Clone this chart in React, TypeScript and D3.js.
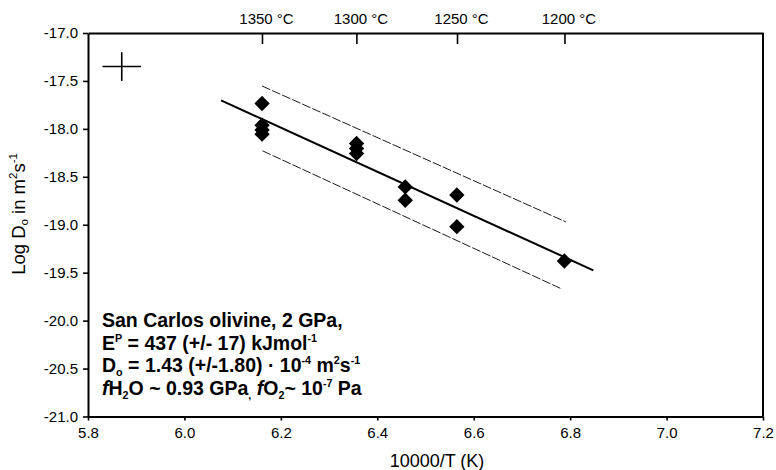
import React, { useEffect, useRef } from "react";
import * as d3 from "d3";

const W = 776;
const H = 470;

const xTicks = [5.8, 6.0, 6.2, 6.4, 6.6, 6.8, 7.0, 7.2];
const yTicks = [-17.0, -17.5, -18.0, -18.5, -19.0, -19.5, -20.0, -20.5, -21.0];
const tempTicksC = [1350, 1300, 1250, 1200];

const pointX = [6.161, 6.161, 6.161, 6.161, 6.357, 6.357, 6.357, 6.458, 6.458, 6.565, 6.565, 6.788];
const pointY = [-17.735, -17.962, -18.012, -18.055, -18.152, -18.205, -18.257, -18.605, -18.745, -18.69, -19.02, -19.378];

const fitX = [6.076, 6.848];
const fitY = [-17.703, -19.475];
const upperX = [6.161, 6.791];
const upperY = [-17.553, -18.97];
const lowerX = [6.162, 6.781];
const lowerY = [-18.229, -19.666];

const errCenter = [5.87, -17.35];
const errHalf = [0.04, 0.15];

type Seg = { t: string; k?: "sup" | "sub"; i?: boolean };

const infoLines: Seg[][] = [
  [{ t: "San Carlos olivine, 2 GPa," }],
  [{ t: "E" }, { t: "P", k: "sup" }, { t: " = 437 (+/- 17) kJmol" }, { t: "-1", k: "sup" }],
  [
    { t: "D" }, { t: "o", k: "sub" }, { t: " = 1.43 (+/-1.80) · 10" }, { t: "-4", k: "sup" },
    { t: " m" }, { t: "2", k: "sup" }, { t: "s" }, { t: "-1", k: "sup" },
  ],
  [
    { t: "f", i: true }, { t: "H" }, { t: "2", k: "sub" }, { t: "O ~ 0.93 GPa" }, { t: ",", k: "sub" },
    { t: " " }, { t: "f", i: true }, { t: "O" }, { t: "2", k: "sub" }, { t: "~ 10" }, { t: "-7", k: "sup" }, { t: " Pa" },
  ],
];

const yLabel: Seg[] = [
  { t: "Log D" }, { t: "o", k: "sub" }, { t: " in m" }, { t: "2", k: "sup" }, { t: "s" }, { t: "-1", k: "sup" },
];

function Rich({ segs, size, scale }: { segs: Seg[]; size: number; scale: number }) {
  let cur = 0;
  return (
    <>
      {segs.map((s, idx) => {
        const target = s.k === "sup" ? -size * 0.42 : s.k === "sub" ? size * 0.18 : 0;
        const dy = target - cur;
        cur = target;
        return (
          <tspan
            key={idx}
            dy={dy}
            fontSize={s.k ? size * scale : size}
            fontStyle={s.i ? "italic" : "normal"}
          >
            {s.t}
          </tspan>
        );
      })}
    </>
  );
}

export default function App() {
  const gRef = useRef<SVGGElement>(null);

  const x = d3.scaleLinear().domain([5.8, 7.2]).range([88, 763]);
  const y = d3.scaleLinear().domain([-21, -17]).range([416.5, 33]);

  useEffect(() => {
    const g = d3.select(gRef.current);
    g.selectAll("*").remove();
    const font = "'Liberation Sans', Arial, sans-serif";
    const fmt = (d: d3.NumberValue) => (d as number).toFixed(1);

    const left = g.append("g").attr("transform", `translate(${x.range()[0]},0)`)
      .call(d3.axisLeft(y).tickValues(yTicks).tickFormat(fmt).tickSize(5).tickSizeOuter(0).tickPadding(5));
    const bottom = g.append("g").attr("transform", `translate(0,${y.range()[0]})`)
      .call(d3.axisBottom(x).tickValues(xTicks).tickFormat(fmt).tickSize(4).tickSizeOuter(0).tickPadding(7));
    const top = g.append("g").attr("transform", `translate(0,${y.range()[1]})`)
      .call(d3.axisTop(x).tickValues(tempTicksC.map((c) => 10000 / (c + 273.15)))
        .tickFormat((_, i) => `${tempTicksC[i]} °C`).tickSize(-11).tickSizeOuter(0).tickPadding(9));

    [left, bottom, top].forEach((a) => {
      a.select(".domain").attr("stroke", "#000").attr("stroke-width", 2);
      a.selectAll(".tick line").attr("stroke", "#000").attr("stroke-width", 1.6);
      a.selectAll(".tick text").attr("fill", "#000").style("font-family", font).style("font-size", "15px");
    });
    top.selectAll(".tick text").attr("dx", 4);
    g.append("line").attr("x1", x(7.2)).attr("x2", x(7.2)).attr("y1", y(-17)).attr("y2", y(-21))
      .attr("stroke", "#000").attr("stroke-width", 2);
  }, []);

  const line = d3.line<[number, number]>().x((d) => x(d[0])).y((d) => y(d[1]));
  const diamond = d3.symbol().type(d3.symbolSquare).size(118)();

  return (
    <svg width={W} height={H} style={{ display: "block", position: "absolute", left: 0, top: 0 }}
      fontFamily="'Liberation Sans', Arial, sans-serif">
      <rect width={W} height={H} fill="#fff" />
      <g ref={gRef} />
      <line x1={x(errCenter[0] - errHalf[0])} x2={x(errCenter[0] + errHalf[0])} y1={y(errCenter[1])} y2={y(errCenter[1])}
        stroke="#000" strokeWidth={1.6} />
      <line x1={x(errCenter[0])} x2={x(errCenter[0])} y1={y(errCenter[1] + errHalf[1])} y2={y(errCenter[1] - errHalf[1])}
        stroke="#000" strokeWidth={1.6} />
      <path d={line(upperX.map((v, i) => [v, upperY[i]]) as [number, number][]) || ""} fill="none" stroke="#000"
        strokeWidth={0.9} strokeDasharray="9,2" />
      <path d={line(lowerX.map((v, i) => [v, lowerY[i]]) as [number, number][]) || ""} fill="none" stroke="#000"
        strokeWidth={0.9} strokeDasharray="9,2" />
      <path d={line(fitX.map((v, i) => [v, fitY[i]]) as [number, number][]) || ""} fill="none" stroke="#000"
        strokeWidth={2} />
      {pointX.map((v, i) => (
        <path key={i} d={diamond || ""} transform={`translate(${x(v)},${y(pointY[i])}) rotate(45)`} fill="#000" />
      ))}
      {infoLines.map((segs, i) => (
        <text key={i} x={102} y={327 + i * 22.7} fontSize={19.5} fontWeight="bold" fill="#000">
          <Rich segs={segs} size={19.5} scale={0.55} />
        </text>
      ))}
      <text x={437} y={467} fontSize={18} textAnchor="middle" fill="#000">10000/T (K)</text>
      <text transform="translate(25,214) rotate(-90)" fontSize={18.5} textAnchor="middle" fill="#000">
        <Rich segs={yLabel} size={18.5} scale={0.62} />
      </text>
    </svg>
  );
}
